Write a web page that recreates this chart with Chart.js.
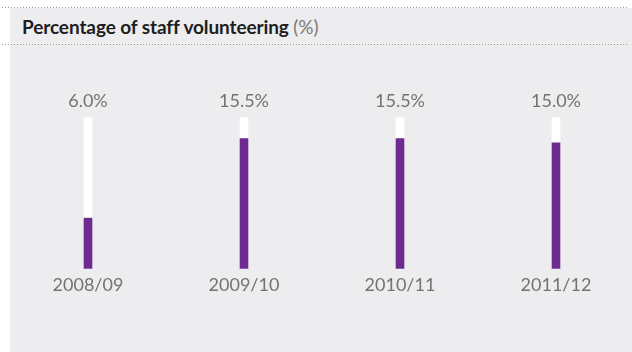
<!DOCTYPE html>
<html>
<head>
<meta charset="utf-8">
<script src="https://cdn.jsdelivr.net/npm/chart.js@4"></script>
<style>
  html, body { margin: 0; padding: 0; background: #fff; }
  #frame { position: relative; width: 632px; height: 352px; overflow: hidden; font-family: Lato, sans-serif; }
  .panel { position: absolute; left: 10px; top: 8px; right: 0; bottom: 0; background: #ededef; }
  .dots { position: absolute; left: 2px; width: 627px; height: 1px;
    background-image: linear-gradient(to right, #9a9a9a 0 1.5px, transparent 1.5px 3px);
    background-size: 3px 1px; }
  .title { position: absolute; left: 22px; top: 16px; font-size: 19px; line-height: 22px;
    font-weight: 700; color: #1e1e1e; white-space: nowrap; letter-spacing: -0.1px; }
  .title span { font-weight: 400; color: #7a7a7a; }
  #chartBox { position: absolute; left: 0; top: 0; width: 632px; height: 352px; }
</style>
</head>
<body>
<div id="frame">
  <div class="panel"></div>
  <div class="dots" style="top:7px"></div>
  <div class="dots" style="top:44px"></div>
  <div class="title">Percentage of staff volunteering <span>(%)</span></div>
  <div id="chartBox"><canvas id="volChart" width="632" height="352"></canvas></div>
</div>
<script>
// data
const years    = ['2008/09', '2009/10', '2010/11', '2011/12'];
const volunteerPct = [6.0, 15.5, 15.5, 15.0];
const trackMax = 18;

const textGrey = '#737373';
const purple   = '#6d2a8f';

new Chart(document.getElementById('volChart'), {
  type: 'bar',
  data: {
    labels: years,
    datasets: [
      { label: 'Volunteering', data: volunteerPct, backgroundColor: purple,
        barThickness: 8, grouped: false, order: 0, clip: false },
      { label: 'Track', data: years.map(() => trackMax), backgroundColor: '#ffffff',
        barThickness: 8, grouped: false, order: 1, clip: false },
    ],
  },
  options: {
    responsive: false, animation: false,
    layout: { padding: { left: 88, right: 76, top: 84, bottom: 50 } },
    plugins: { legend: { display: false }, tooltip: { enabled: false } },
    scales: {
      x: {
        offset: false,
        grid: { display: false, drawTicks: false }, border: { display: false },
        ticks: { color: textGrey, font: { family: 'Lato', size: 18 }, padding: 6, maxRotation: 0, autoSkip: false },
      },
      xTop: {
        type: 'category', position: 'top', offset: false,
        labels: volunteerPct.map(v => v.toFixed(1) + '%'),
        grid: { display: false, drawTicks: false }, border: { display: false },
        ticks: { color: textGrey, font: { family: 'Lato', size: 18 }, padding: 6, maxRotation: 0, autoSkip: false },
      },
      y: { display: false, min: 0, max: trackMax },
    },
  },
});
</script>
</body>
</html>
